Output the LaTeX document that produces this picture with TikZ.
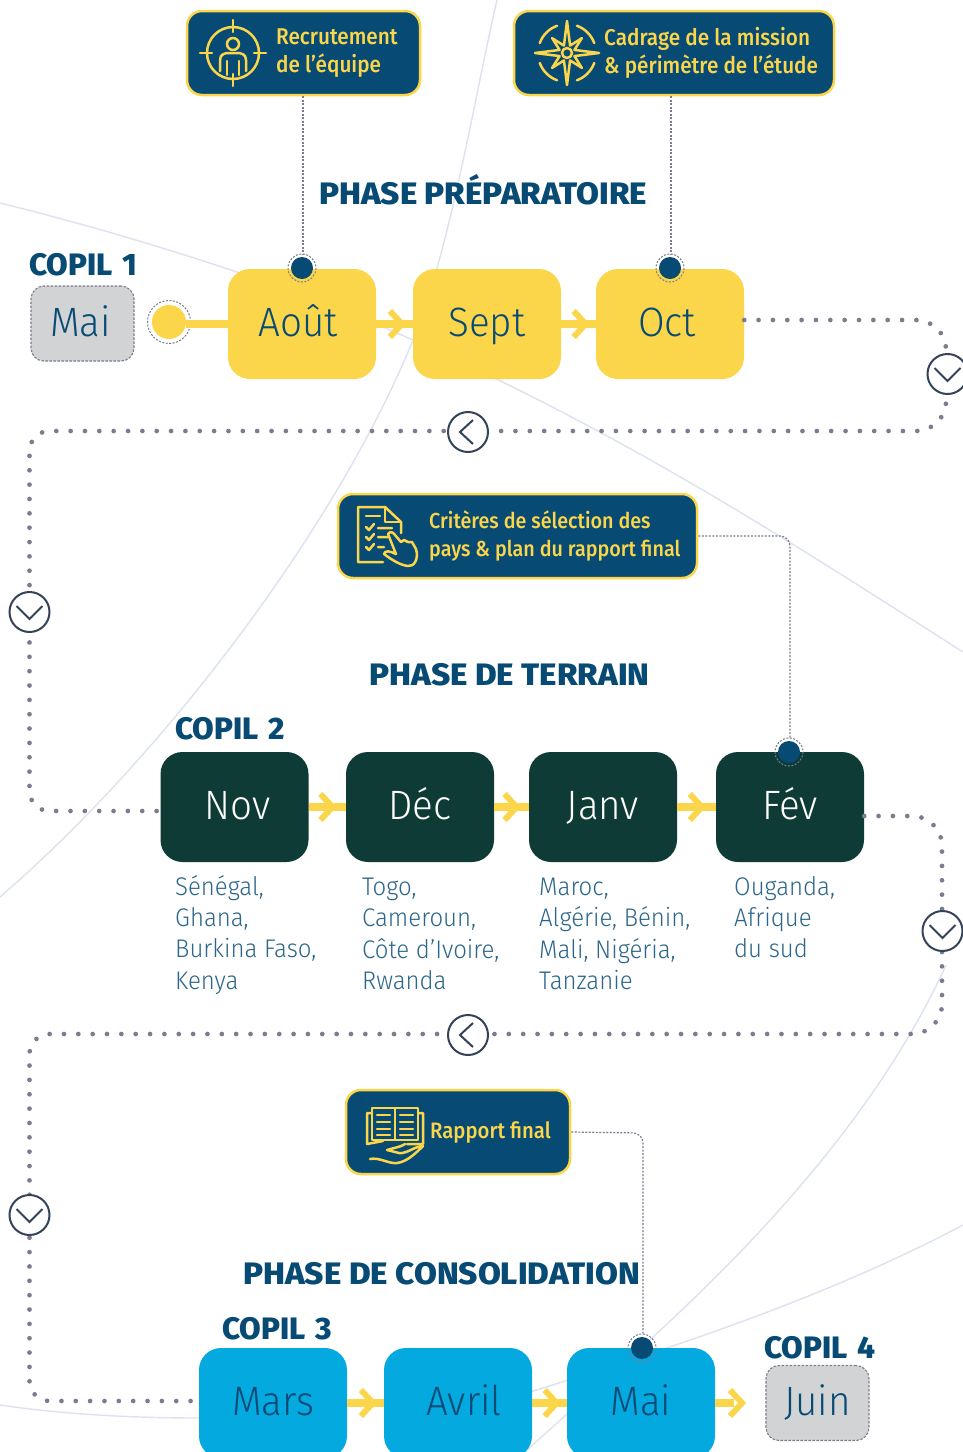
\documentclass[tikz,border=0pt]{standalone}
\usepackage{fontspec}
\usetikzlibrary{arrows.meta,calc,decorations.markings}
\setmainfont{Fira Sans}
\newfontfamily\lightf[FakeStretch=0.94]{Fira Sans Light}
\newfontfamily\medf[FakeStretch=0.91]{Fira Sans Medium}
\newfontfamily\boldf[FakeStretch=1.07]{Fira Sans ExtraBold}
\newfontfamily\copilf[FakeStretch=1.01]{Fira Sans ExtraBold}
\definecolor{navy}{HTML}{074B75}
\definecolor{sun}{HTML}{FBD54A}
\definecolor{pine}{HTML}{0F3B36}
\definecolor{sky}{HTML}{04A9E0}
\definecolor{ash}{HTML}{D1D3D4}
\definecolor{dotc}{HTML}{7D7B8F}
\definecolor{faint}{HTML}{DCE2EF}
\definecolor{slatec}{HTML}{34435A}
\tikzset{
 month/.style={rounded corners=22,minimum width=148,minimum height=110,inner sep=0,text height=30.5pt,text depth=5.5pt,font=\lightf\fontsize{41}{41}\selectfont},
 sunbox/.style={month,fill=sun,text=navy},
 pinebox/.style={month,fill=pine,text=white},
 skybox/.style={month,fill=sky,text=navy},
 copilbox/.style={month,fill=ash,text=navy,draw=dotc,dashed,dash pattern=on 2.5pt off 1.5pt,line width=1.1,rounded corners=13,minimum width=103,minimum height=75},
 callout/.style={fill=navy,draw=sun,line width=2.5,rounded corners=15,inner sep=0,minimum height=84},
 calltext/.style={anchor=west,inner sep=0,align=left,text=sun,font=\medf\fontsize{22.8}{28}\selectfont},
 phasetitle/.style={anchor=base,inner sep=0,text=navy,font=\boldf\fontsize{31}{31}\selectfont},
 copiltitle/.style={inner sep=0,anchor=west,text=navy,font=\copilf\fontsize{31}{31}\selectfont},
 countries/.style={anchor=north west,inner sep=0,align=left,text=navy!85!white,font=\lightf\fontsize{25.5}{31.3}\selectfont},
 pin/.style={circle,fill=navy,minimum size=22,inner sep=0,outer sep=0},
 pinring/.style={draw=dotc,dash pattern=on 2pt off 1.5pt,line width=1},
 thinlink/.style={draw=dotc,dash pattern=on 2pt off 1.5pt,line width=1.2,rounded corners=10},
 dotlink/.style={draw=dotc,line width=4.7,line cap=round,dash pattern=on 0pt off 14.35pt},
 flow/.style={draw=sun,line width=8,postaction={decorate},decoration={markings,mark=at position #1 with {\draw[sun,line width=6,miter limit=10] (-9,-13)--(3,0)--(-9,13);}}},
 plainflow/.style={draw=sun,line width=8},
 updown/.style={circle,fill=white,draw=slatec,line width=2,minimum size=40,inner sep=0},
 bgcurve/.style={draw=faint,line width=1.4},
 icon/.style={draw=sun,line width=2.5,line cap=round,line join=round},
}
\begin{document}
\begin{tikzpicture}[x=1pt,y=-1pt]
\path[use as bounding box,clip] (0,0) rectangle (963,1452);
\fill[white] (0,0) rectangle (963,1452);
% background curves
\draw[bgcurve] (0,203) .. controls (130,235) and (290,285) .. (413,340) .. controls (625,435) and (780,535) .. (963,652);
\draw[bgcurve] (497,0) .. controls (475,95) and (450,250) .. (413,340) .. controls (340,520) and (170,750) .. (0,897);
\draw[bgcurve] (946,965) .. controls (880,1110) and (760,1240) .. (642,1347) .. controls (600,1385) and (560,1420) .. (525,1452);
\draw[bgcurve] (963,1225) .. controls (840,1290) and (700,1340) .. (520,1395);
\draw[bgcurve] (0,1405) .. controls (60,1414) and (130,1418) .. (199,1418);
% month boxes
\node[sunbox] (aout) at (302,324) {Août\hspace*{7pt}};
\node[sunbox] (sept) at (487,324) {Sept};
\node[sunbox] (oct) at (670,324) {Oct\hspace*{6pt}};
\node[pinebox] (nov) at (234.5,807) {\hspace*{6pt}Nov};
\node[pinebox] (dec) at (420,807) {Déc};
\node[pinebox] (janv) at (603,807) {Janv};
\node[pinebox] (fev) at (790,807) {Fév};
\node[skybox] (mars) at (273,1403) {Mars};
\node[skybox] (avril) at (458,1403) {\hspace*{12pt}Avril};
\node[skybox] (maib) at (641,1403) {Mai};
\node[copilbox] (maia) at (82.5,323.5) {Mai\hspace*{4pt}};
\node[copilbox] (juin) at (817.5,1403) {Juin};
% start point
\node[circle,fill=sun,minimum size=34,inner sep=0] (start) at (169,322) {};
\draw[pinring] (start) circle[radius=21.5];
% flow connectors
\path[plainflow] (start.east|-aout.west) -- (aout.west);
\path[flow=.62] (aout.east) -- (sept.west);
\path[flow=.62] (sept.east) -- (oct.west);
\path[flow=.56] (nov.east) -- (dec.west);
\path[flow=.56] (dec.east) -- (janv.west);
\path[flow=.56] (janv.east) -- (fev.west);
\path[flow=.62] (mars.east) -- (avril.west);
\path[flow=.62] (avril.east) -- (maib.west);
\coordinate (finjuin) at (734,1403);
\draw[plainflow] (maib.east) -- (finjuin);
\draw[sun,line width=6,miter limit=10] (730,1390)--(742,1403)--(730,1416);
% titles
\node[phasetitle] (t1) at (483,204) {PHASE PRÉPARATOIRE};
\node[phasetitle] (t2) at (509.5,685) {PHASE DE TERRAIN};
\node[phasetitle] (t3) at (441.5,1284) {PHASE DE CONSOLIDATION};
\node[copiltitle] (k1) at (29,265) {COPIL\,\,1};
\node[copiltitle] (k2) at (175,729) {COPIL\,\,2};
\node[copiltitle] (k3) at (222,1329) {COPIL\,\,3};
\node[copiltitle] (k4) at (764,1348) {COPIL\,\,4};
% callouts
\node[callout,minimum width=233] (c1) at (303.5,53) {};
\node[callout,minimum width=320] (c2) at (674,53) {};
\node[callout,minimum width=359] (c3) at (517.5,536) {};
\node[callout,minimum width=224] (c4) at (458,1132) {};
\node[calltext] (c1t) at (276,53) {Recrutement\\de l’équipe};
\node[calltext] (c2t) at (604,53) {Cadrage de la mission\\\& périmètre de l’étude};
\node[calltext,font=\medf\fontsize{21.7}{28}\selectfont] (c3t) at (429,535.5) {Critères de sélection des\\pays \& plan du rapport final};
\node[calltext,font=\medf\fontsize{22.3}{28}\selectfont] (c4t) at (430,1132) {Rapport final};
% pins
\node[pin] (p1) at (302,268) {};
\node[pin] (p2) at (670,268) {};
\node[pin] (p3) at (789,752) {};
\node[pin] (p4) at (642,1348) {};
\foreach \p in {p1,p2,p3,p4} \draw[pinring] (\p) circle[radius=14];
% thin links
\draw[thinlink] ([xshift=1pt]c1.south-|p1) -- ([xshift=1pt,yshift=3pt]p1.north);
\draw[thinlink] ([xshift=1pt]c2.south-|p2) -- ([xshift=1pt,yshift=3pt]p2.north);
\draw[thinlink] (c3.east) -- (790,536) -- ([xshift=1pt,yshift=3pt]p3.north);
\draw[thinlink] (c4.east) -- (643,1133) -- ([xshift=1pt,yshift=3pt]p4.north);
% dotted links
\draw[dotlink,rounded corners=30] ([yshift=4pt]oct.east) -- (946,320) -- (946,431) -- (300,431) [rounded corners=20] -- (29.5,431) -- (29.5,811) -- ([yshift=-4pt]nov.west);
\draw[dotlink,rounded corners=30] ([yshift=-9pt]fev.east) -- (942,816) -- (942,1034) -- (300,1034) [rounded corners=20] -- (29.5,1034) -- (29.5,1401) -- ([yshift=2pt]mars.west);
% turn circles
\node[updown] (u1) at (947.5,374) {};
\node[updown] (u2) at (468,432) {};
\node[updown] (u3) at (29.5,612) {};
\node[updown] (u4) at (942.5,931) {};
\node[updown] (u5) at (468,1035) {};
\node[updown] (u6) at (29.5,1215) {};
\foreach \u in {u1,u3,u4,u6} \draw[slatec,line width=2] ($(\u)+(-13,-6)$) -- ($(\u)+(0,7)$) -- ($(\u)+(13,-6)$);
\foreach \u in {u2,u5} \draw[slatec,line width=2] ($(\u)+(5,-12)$) -- ($(\u)+(-8,0)$) -- ($(\u)+(5,12)$);
% countries
\node[countries] (n1) at (175,875) {Sénégal,\\Ghana,\\Burkina Faso,\\Kenya};
\node[countries] (n2) at (362,878) {Togo,\\Cameroun,\\Côte d’Ivoire,\\Rwanda};
\node[countries] (n3) at (539,878) {Maroc,\\Algérie, Bénin,\\Mali, Nigéria,\\Tanzanie};
\node[countries] (n4) at (734,876) {Ouganda,\\Afrique\\du sud};
% icon: target person
\begin{scope}[shift={(233,53)}]
\draw[icon] (0,0) circle[radius=26];
\draw[icon] (0,-33)--(0,-21) (0,21)--(0,33) (-33,0)--(-21,0) (21,0)--(33,0);
\draw[icon] (0,-9) circle[radius=6];
\draw[icon] (-13,18) -- (-13,7) .. controls (-13,1) and (-8,0) .. (-4,0) -- (4,0) .. controls (8,0) and (13,1) .. (13,7) -- (13,18);
\draw[icon] (-6,8)--(-6,22) (6,8)--(6,22);
\end{scope}
% icon: compass
\begin{scope}[shift={(567,53)}]
\draw[icon] (0:32) -- (22.5:8) -- (45:21) -- (67.5:8) -- (90:32) -- (112.5:8) -- (135:21) -- (157.5:8) -- (180:32) -- (202.5:8) -- (225:21) -- (247.5:8) -- (270:32) -- (292.5:8) -- (315:21) -- (337.5:8) -- cycle;
\draw[icon] (0,0) circle[radius=5];
\foreach \a in {0,90,180,270} \draw[icon] (\a+20:29) arc[start angle=\a+20,end angle=\a+70,radius=29];
\end{scope}
% icon: checklist and hand
\begin{scope}[shift={(358,507)}]
\draw[icon] (25,55) -- (0,55) -- (0,0) -- (27,0) -- (43,15) -- (43,26);
\draw[icon] (27,0) -- (27,15) -- (43,15);
\draw[icon] (8,9)--(22,9);
\draw[icon] (8,20)--(11,23)--(16,17) (20,21)--(34,21);
\draw[icon] (8,30)--(11,33)--(16,27) (20,30)--(30,30);
\draw[icon] (8,40)--(11,43)--(16,37) (20,40)--(26,40);
\draw[icon] (30,27) .. controls (32,24) and (35,25) .. (37,28) -- (43,35) -- (46,33) -- (50,35) -- (54,35) -- (58,42) .. controls (61,52) and (56,60) .. (50,59) .. controls (42,58) and (34,53) .. (26,47) .. controls (27,43) and (32,44) .. (38,47) -- (30,27);
\end{scope}
% icon: open book and hand
\begin{scope}[shift={(367,1108)}]
\draw[icon] (5,0) -- (28,0) -- (28,32) -- (5,32) -- cycle;
\draw[icon] (28,0) -- (51,0) -- (51,32) -- (28,32);
\draw[icon] (5,5) -- (0,5) -- (0,36) -- (16,33) (51,5) -- (56,5) -- (56,36) -- (40,36);
\foreach \y in {7,14,21,27} \draw[icon] (10,\y)--(23,\y) (33,\y)--(46,\y);
\draw[icon] (3,51) .. controls (12,49) and (22,56) .. (30,55) .. controls (40,54) and (50,44) .. (56,38) .. controls (48,38) and (40,46) .. (32,45) -- (20,42) .. controls (26,40) and (34,39) .. (38,36);
\end{scope}
\end{tikzpicture}
\end{document}
